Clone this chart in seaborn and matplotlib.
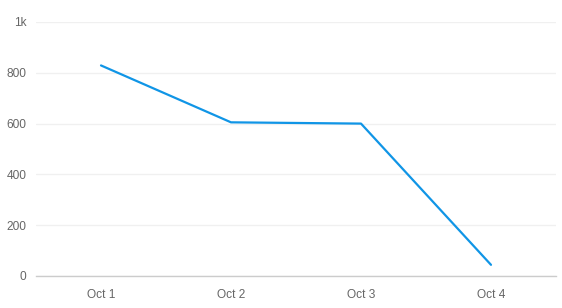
import matplotlib
matplotlib.use("Agg")
import matplotlib.pyplot as plt
import seaborn as sns
import pandas as pd
from matplotlib.ticker import FixedLocator

categories = ["Oct 1", "Oct 2", "Oct 3", "Oct 4"]
values = [829, 605, 600, 44]
y_ticks = [0, 200, 400, 600, 800, 1000]
y_tick_labels = ["0", "200", "400", "600", "800", "1k"]

sns.set_theme(style="white")
plt.rcParams["font.family"] = ["Liberation Sans", "DejaVu Sans"]

df = pd.DataFrame({"day": categories, "value": values})

fig = plt.figure(figsize=(5.62, 3.08), dpi=100)
ax = fig.add_axes([36/562, 32/308, 520/562, 254/308])

sns.lineplot(data=df, x="day", y="value", ax=ax, color="#1095e6", linewidth=1.6, sort=False)

ax.set_xlim(-0.5, len(categories) - 0.5)
ax.set_ylim(0, 1000)
ax.yaxis.set_major_locator(FixedLocator(y_ticks))
ax.set_yticklabels(y_tick_labels)
ax.grid(axis="y", color="#f0f0f0", linewidth=1)
ax.set_axisbelow(True)
for s in ["top", "right", "left"]:
    ax.spines[s].set_visible(False)
ax.spines["bottom"].set_color("#cccccc")
ax.spines["bottom"].set_linewidth(1)
ax.set_xlabel("")
ax.set_ylabel("")
ax.tick_params(axis="x", length=5, color="#cccccc", labelcolor="#666666", labelsize=8.6, pad=4, width=0.8)
ax.tick_params(axis="y", length=0, labelcolor="#666666", labelsize=8.6, pad=7)

fig.savefig("out.png", dpi=100)
